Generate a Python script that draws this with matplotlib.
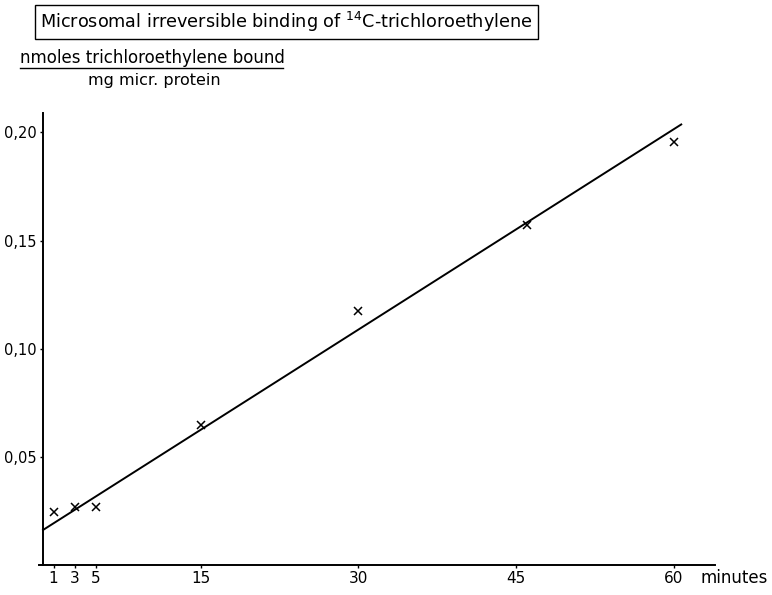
import matplotlib.pyplot as plt

# time in minutes, binding in nmoles / mg microsomal protein
minutes = [1, 3, 5, 15, 30, 46, 60]
bound = [0.0247, 0.0270, 0.0267, 0.0648, 0.1176, 0.1570, 0.1957]

# regression line drawn through the points
line_x = [0, 60.7]
line_y = [0.0162, 0.2037]

x_ticks = [1, 3, 5, 15, 30, 45, 60]
y_ticks = [0.05, 0.10, 0.15, 0.20]
y_labels = ["0,05", "0,10", "0,15", "0,20"]

plt.rcParams["font.family"] = ["DejaVu Sans"]

fig = plt.figure(figsize=(7.72, 5.95), dpi=100)
ax = fig.add_axes([0.0503, 0.0504, 0.8757, 0.7597])

ax.plot(line_x, line_y, color="black", linewidth=1.4)
ax.plot(minutes, bound, linestyle="none", marker="x", color="black",
        markersize=6, markeredgewidth=1.1)

ax.set_xlim(-0.4, 63.9)
ax.set_ylim(0, 0.209)
ax.spines["left"].set_position(("data", 0))
ax.spines["top"].set_visible(False)
ax.spines["right"].set_visible(False)
ax.spines["left"].set_linewidth(1.4)
ax.spines["bottom"].set_linewidth(1.4)

ax.set_xticks(x_ticks)
ax.set_xticklabels([str(t) for t in x_ticks], fontsize=11)
ax.set_yticks(y_ticks)
ax.set_yticklabels(y_labels, fontsize=10.5)
ax.tick_params(axis="both", length=2.5, width=1, pad=2)

fig.text(0.908, 0.028, "minutes", fontsize=12, ha="left", va="center")

fig.text(0.371, 0.963, r"Microsomal irreversible binding of $^{14}$C-trichloroethylene",
         fontsize=12.7, ha="center", va="center",
         bbox=dict(boxstyle="square,pad=0.3", facecolor="white",
                   edgecolor="black", linewidth=1))

fig.text(0.026, 0.902, "nmoles trichloroethylene bound", fontsize=12,
         ha="left", va="center")
fig.add_artist(plt.Line2D([0.026, 0.367], [0.886, 0.886], color="black",
                          linewidth=1, transform=fig.transFigure))
fig.text(0.2, 0.865, "mg micr. protein", fontsize=11.5, ha="center", va="center")

fig.savefig("out.png", dpi=100)
